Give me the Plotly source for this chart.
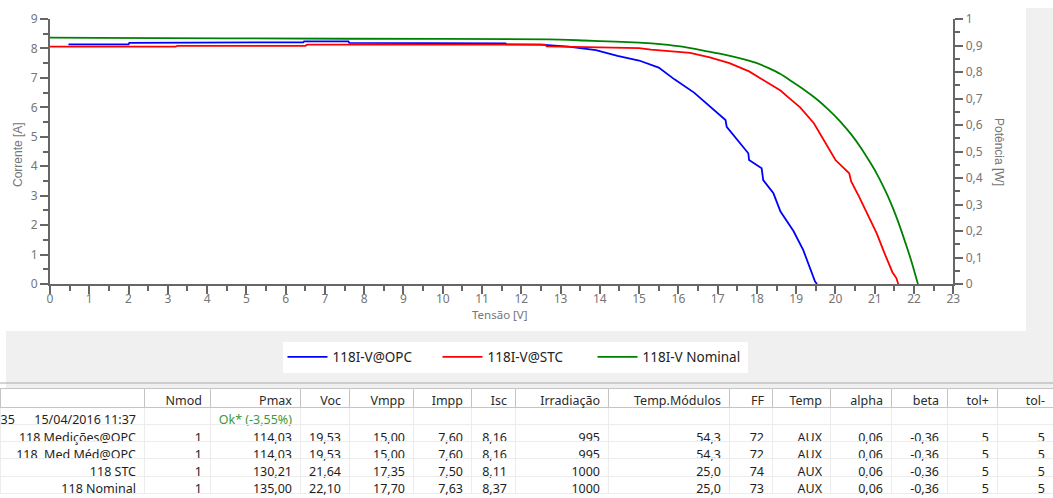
import plotly.graph_objects as go

# ---------------- data ----------------
v_opc = [0.47, 2.0, 2.02, 4.3, 4.32, 6.45, 6.47, 7.6, 7.62, 10.7, 10.72, 11.6, 11.62, 12.5, 13.2, 13.6, 13.9,
         14.45, 15.0, 15.5, 15.9, 16.4, 16.85, 17.2, 17.23, 17.5, 17.78, 17.8, 18.12, 18.16, 18.42, 18.6,
         18.93, 19.18, 19.35, 19.48, 19.53]
i_opc = [8.14, 8.14, 8.19, 8.19, 8.21, 8.21, 8.24, 8.24, 8.19, 8.19, 8.17, 8.17, 8.14, 8.13, 8.06, 7.98, 7.94,
         7.75, 7.59, 7.35, 6.95, 6.50, 5.97, 5.57, 5.34, 4.89, 4.44, 4.21, 3.93, 3.53, 3.08, 2.46,
         1.80, 1.15, 0.53, 0.08, 0.0]

v_stc = [0, 3.2, 3.25, 6.5, 6.55, 12.6, 12.65, 14.3, 15.0, 15.3, 16.3, 16.8, 17.3, 17.8, 18.25, 18.6, 18.8,
         19.1, 19.45, 19.7, 20.0, 20.35, 20.4, 20.6, 20.8, 21.05, 21.25, 21.45, 21.55, 21.6]
i_stc = [8.06, 8.06, 8.09, 8.09, 8.13, 8.13, 8.07, 8.03, 8.01, 7.96, 7.85, 7.70, 7.50, 7.22, 6.87, 6.57, 6.34,
         6.00, 5.46, 4.89, 4.21, 3.76, 3.48, 2.97, 2.40, 1.72, 1.04, 0.40, 0.20, 0.0]

v_nom = [0, 1.2, 7.6, 12.7, 13.6, 14.4, 15.0, 15.6, 16.1, 16.7, 17.2, 17.7, 18.0, 18.3, 18.6, 18.9,
         19.2, 19.5, 19.8, 20.1, 20.4, 20.65, 20.85, 21.05, 21.25, 21.4, 21.55, 21.7, 21.85, 21.95, 22.1]
i_nom = [8.37, 8.36, 8.33, 8.31, 8.27, 8.23, 8.20, 8.14, 8.06, 7.91, 7.78, 7.62, 7.50, 7.33, 7.13, 6.87,
         6.60, 6.30, 5.95, 5.55, 5.08, 4.62, 4.20, 3.75, 3.22, 2.78, 2.28, 1.72, 1.12, 0.70, 0.0]

series_names = ["118I-V@OPC", "118I-V@STC", "118I-V Nominal"]
series_colors = ["#0000ff", "#ff0000", "#008000"]

headers = ["", "Nmod", "Pmax", "Voc", "Vmpp", "Impp", "Isc", "Irradiação", "Temp.Módulos",
           "FF", "Temp", "alpha", "beta", "tol+", "tol-"]
col_name = ["35      15/04/2016 11:37", "118 Medições@OPC", "118  Med Méd@OPC", "118 STC", "118 Nominal"]
col_nmod = ["", "1", "1", "1", "1"]
col_pmax = ["Ok* (-3,55%)", "114,03", "114,03", "130,21", "135,00"]
col_voc = ["", "19,53", "19,53", "21,64", "22,10"]
col_vmpp = ["", "15,00", "15,00", "17,35", "17,70"]
col_impp = ["", "7,60", "7,60", "7,50", "7,63"]
col_isc = ["", "8,16", "8,16", "8,11", "8,37"]
col_irr = ["", "995", "995", "1000", "1000"]
col_tmod = ["", "54,3", "54,3", "25,0", "25,0"]
col_ff = ["", "72", "72", "74", "73"]
col_temp = ["", "AUX", "AUX", "AUX", "AUX"]
col_alpha = ["", "0,06", "0,06", "0,06", "0,06"]
col_beta = ["", "-0,36", "-0,36", "-0,36", "-0,36"]
col_tolp = ["", "5", "5", "5", "5"]
col_tolm = ["", "5", "5", "5", "5"]
col_widths = [144, 66, 90, 49, 64, 58, 44, 93, 121, 43, 58, 61, 56, 50, 56]

# ---------------- figure ----------------
W, H = 1053, 498
def px(x):
    return x / W
def py(y):
    return 1 - y / H

FONT = "Noto Sans, Open Sans, sans-serif"
NARROW = "Liberation Sans Narrow, Arial Narrow, Liberation Sans, sans-serif"
AX = "#666666"
TXT = "#767676"

fig = go.Figure()
for v, i, n, c in zip([v_opc, v_stc, v_nom], [i_opc, i_stc, i_nom], series_names, series_colors):
    shape = "spline" if c == "#008000" else "linear"
    fig.add_trace(go.Scatter(x=v, y=i, mode="lines", name=n,
                             line=dict(color=c, width=1.8, shape=shape, smoothing=0.6),
                             xaxis="x", yaxis="y", hoverinfo="skip"))
# empty trace so the right-hand (power) axis is drawn
fig.add_trace(go.Scatter(x=[], y=[], xaxis="x", yaxis="y2", showlegend=False, hoverinfo="skip"))

cols = [col_name, col_nmod, col_pmax, col_voc, col_vmpp, col_impp, col_isc, col_irr, col_tmod,
        col_ff, col_temp, col_alpha, col_beta, col_tolp, col_tolm]
cols_nb = [[s.replace(" ", "\u00a0") for s in col] for col in cols]
color2d = [["#1e1e1e"] * 5 for _ in cols]
color2d[2][0] = "#3a9a3a"

fig.add_trace(go.Table(
    domain=dict(x=[0, 1], y=[0, py(388)]),
    columnwidth=col_widths,
    header=dict(values=headers, align="right", height=19,
                fill_color="white", line=dict(color="#c4c4c4", width=1),
                font=dict(family=FONT, size=12.5, color="#2a2a2a")),
    cells=dict(values=cols_nb, align="right", height=17.25,
               fill_color="rgba(255,255,255,0)", line=dict(color="#ececec", width=1),
               font=dict(family=FONT, size=12.5, color=color2d)),
))

axis_common = dict(showgrid=False, zeroline=False, showline=True, linecolor=AX, linewidth=2,
                   ticks="outside", ticklen=8, tickwidth=2, tickcolor=AX, automargin=False,
                   tickfont=dict(family=FONT, size=12, color=TXT), fixedrange=True)

fig.update_layout(
    template="none",
    width=W, height=H, autosize=False,
    margin=dict(l=0, r=0, t=0, b=0, pad=0, autoexpand=False),
    paper_bgcolor="white", plot_bgcolor="white",
    separators=",.",
    font=dict(family=FONT),
    hovermode=False,
    xaxis=dict(domain=[px(50), px(953.3)], range=[0, 23], dtick=1, anchor="y", ticklabelstandoff=-5,
               minor=dict(dtick=0.5, ticks="outside", ticklen=5, tickwidth=2, tickcolor=AX, showgrid=False),
               **axis_common),
    yaxis=dict(domain=[py(284), py(19)], range=[0, 9], dtick=1, anchor="x",
               minor=dict(dtick=0.5, ticks="outside", ticklen=5, tickwidth=2, tickcolor=AX, showgrid=False),
               **axis_common),
    yaxis2=dict(range=[0, 1], dtick=0.1, overlaying="y", side="right", anchor="x",
                minor=dict(dtick=0.05, ticks="outside", ticklen=5, tickwidth=2, tickcolor=AX, showgrid=False),
                **axis_common),
    showlegend=True,
    legend=dict(orientation="h", x=px(515), y=py(357), xanchor="center", yanchor="middle",
                bgcolor="white", borderwidth=0, font=dict(family=FONT, size=13.5, color="#222222"),
                itemwidth=40, entrywidth=100, entrywidthmode="pixels"),
    shapes=[
        dict(type="rect", xref="paper", yref="paper", x0=px(6), x1=1, y0=py(388), y1=py(331),
             fillcolor="#f0f0f0", line=dict(width=0), layer="below"),
        dict(type="rect", xref="paper", yref="paper", x0=px(1026), x1=1, y0=py(331), y1=py(8),
             fillcolor="#f0f0f0", line=dict(width=0), layer="below"),
        dict(type="line", xref="paper", yref="paper", x0=0, x1=1, y0=py(383), y1=py(383),
             line=dict(color="#a8a8a8", width=1), layer="below"),
    ],
    annotations=[
        dict(text="Corrente [A]", xref="paper", yref="paper", x=px(18), y=py(155), textangle=-90,
             showarrow=False, xanchor="center", yanchor="middle",
             font=dict(family=NARROW, size=12, color=TXT)),
        dict(text="Potência [W]", xref="paper", yref="paper", x=px(999), y=py(152), textangle=90,
             showarrow=False, xanchor="center", yanchor="middle",
             font=dict(family=NARROW, size=12, color=TXT)),
        dict(text="Tensão [V]", xref="paper", yref="paper", x=px(500), y=py(314.5),
             showarrow=False, xanchor="center", yanchor="middle",
             font=dict(family=FONT, size=11.5, color=TXT)),
    ],
)

fig.write_html("out.html", config={"displayModeBar": False})
